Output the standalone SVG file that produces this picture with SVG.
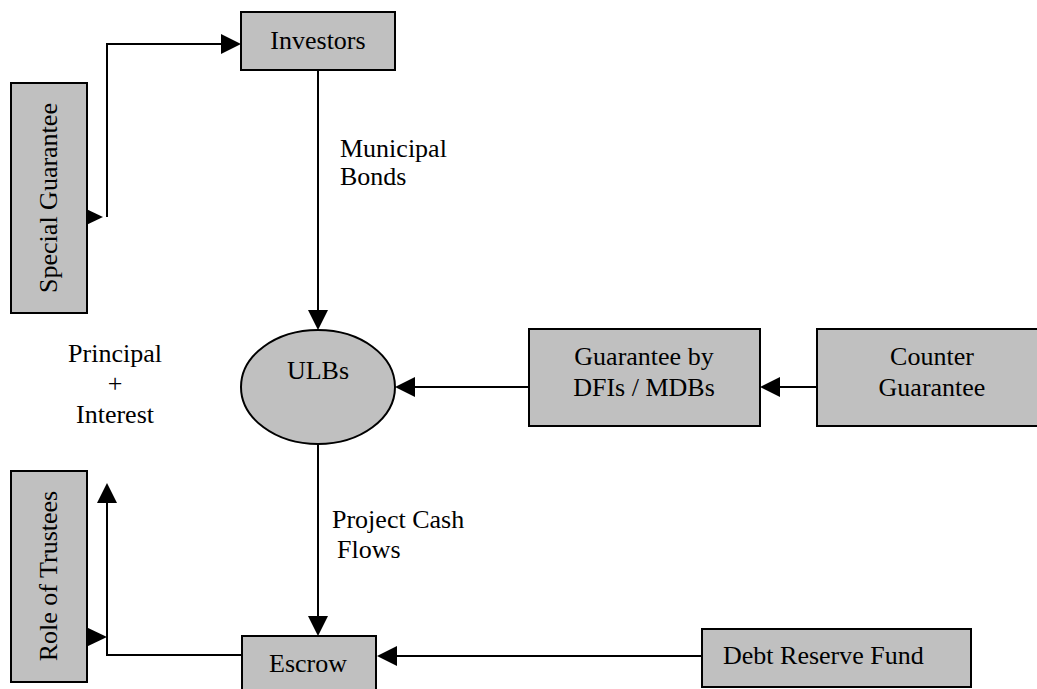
<svg xmlns="http://www.w3.org/2000/svg" width="1037" height="689" viewBox="0 0 1037 689">
<style>
.box{fill:#c0c0c0;stroke:#000;stroke-width:2}
.t{font-family:"Liberation Serif","Times New Roman",serif;font-size:26px;fill:#000}
.c{text-anchor:middle}
.ln{fill:none;stroke:#000;stroke-width:2}
.ah{fill:#000;stroke:none}
</style>
<rect width="1037" height="689" fill="#fff"/>
<g id="connectors">
<polyline class="ln" points="107,217 107,44 222,44"/>
<polygon class="ah" points="241,44 221,34 221,54"/>
<polygon class="ah" points="103,217 82,207 82,227"/>
<line class="ln" x1="318" y1="70" x2="318" y2="311"/>
<polygon class="ah" points="318,330 308,310 328,310"/>
<line class="ln" x1="529" y1="387" x2="414" y2="387"/>
<polygon class="ah" points="395,387 415,377 415,397"/>
<line class="ln" x1="817" y1="387" x2="779" y2="387"/>
<polygon class="ah" points="760,387 780,377 780,397"/>
<line class="ln" x1="318" y1="444" x2="318" y2="617"/>
<polygon class="ah" points="318,636 308,616 328,616"/>
<line class="ln" x1="702" y1="656" x2="396" y2="656"/>
<polygon class="ah" points="377,656 397,646 397,666"/>
<polyline class="ln" points="242,655 107,655 107,502"/>
<polygon class="ah" points="107,483 97,503 117,503"/>
<polygon class="ah" points="107,637 86,627 86,647"/>
</g>
<g id="investors">
<rect class="box" x="241" y="12" width="154" height="58"/>
<text class="t c" x="318" y="49">Investors</text>
</g>
<g id="special-guarantee">
<rect class="box" x="11" y="83" width="76" height="230"/>
<text class="t c" transform="translate(57,198) rotate(-90)">Special Guarantee</text>
</g>
<g id="municipal-bonds-label">
<text class="t" x="340" y="157">Municipal</text>
<text class="t" x="340" y="185">Bonds</text>
</g>
<g id="ulbs">
<ellipse class="box" cx="318" cy="387" rx="77" ry="57"/>
<text class="t c" x="318" y="379">ULBs</text>
</g>
<g id="principal-interest-label">
<text class="t c" x="115" y="362">Principal</text>
<text class="t c" x="115" y="392">+</text>
<text class="t c" x="115" y="423">Interest</text>
</g>
<g id="guarantee-dfis">
<rect class="box" x="529" y="329" width="231" height="97"/>
<text class="t c" x="644" y="365">Guarantee by</text>
<text class="t c" x="644" y="396">DFIs / MDBs</text>
</g>
<g id="counter-guarantee">
<rect class="box" x="817" y="329" width="230" height="97"/>
<text class="t c" x="932" y="365">Counter</text>
<text class="t c" x="932" y="396">Guarantee</text>
</g>
<g id="project-cash-flows-label">
<text class="t" x="332" y="528">Project Cash</text>
<text class="t" x="337" y="558">Flows</text>
</g>
<g id="role-of-trustees">
<rect class="box" x="11" y="471" width="76" height="211"/>
<text class="t c" transform="translate(57,576) rotate(-90)">Role of Trustees</text>
</g>
<g id="escrow">
<rect class="box" x="242" y="636" width="134" height="70"/>
<text class="t c" x="308" y="672">Escrow</text>
</g>
<g id="debt-reserve-fund">
<rect class="box" x="702" y="629" width="269" height="58"/>
<text class="t" x="723" y="664">Debt Reserve Fund</text>
</g>
</svg>
